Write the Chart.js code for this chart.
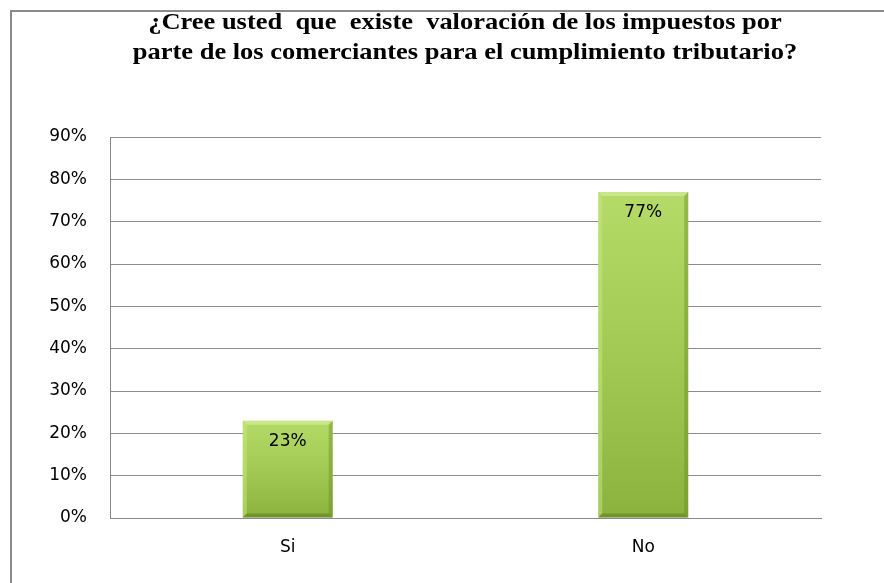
<!DOCTYPE html>
<html>
<head>
<meta charset="utf-8">
<script src="https://cdn.jsdelivr.net/npm/chart.js@4/dist/chart.umd.min.js"></script>
<style>
  html, body { margin: 0; padding: 0; background: #fff; }
  #wrap { position: relative; width: 884px; height: 583px; }
</style>
</head>
<body>
<div id="wrap"><canvas id="chart"></canvas></div>
<script>
/* ==== data ========================================================= */
const titleLines = [
  '¿Cree usted  que  existe  valoración de los impuestos por',
  'parte de los comerciantes para el cumplimiento tributario?'
];
const categories = ['Si', 'No'];
const values = [23, 77];           // percent
const yMax = 90, yStep = 10;

/* ==== helpers ====================================================== */
// vertical green gradient per bar, light on top, darker at base
const barFill = c => {
  const { chart, dataIndex } = c;
  const y = chart.scales.y;
  if (!y || !chart.chartArea) return '#9fc74f';
  const top = y.getPixelForValue(values[dataIndex]), base = y.getPixelForValue(0);
  const g = chart.ctx.createLinearGradient(0, top, 0, base);
  g.addColorStop(0, '#b5da68');
  g.addColorStop(0.5, '#a2ca53');
  g.addColorStop(1, '#8cb23e');
  return g;
};

/* ==== plugins ====================================================== */
const frame = {
  id: 'frame',
  beforeDraw(chart) {
    const { ctx, width, height } = chart;
    ctx.save();
    ctx.strokeStyle = '#8a8a8a';
    ctx.lineWidth = 2;
    ctx.beginPath();
    ctx.moveTo(11, height); ctx.lineTo(11, 11); ctx.lineTo(width, 11);
    ctx.stroke();
    ctx.restore();
  }
};

// title drawn slightly stretched sideways, like the original
const heading = {
  id: 'heading',
  afterDraw(chart) {
    const { ctx } = chart;
    const sx = 1.15;
    ctx.save();
    ctx.scale(sx, 1);
    ctx.font = 'bold 23px "Liberation Serif", serif';
    ctx.fillStyle = '#000';
    ctx.textAlign = 'center';
    ctx.textBaseline = 'middle';
    titleLines.forEach((t, i) => ctx.fillText(t, 465 / sx, 23 + i * 30));
    ctx.restore();
  }
};

// bevel edges + value labels inside top of each bar
const bevel = {
  id: 'bevel',
  afterDatasetsDraw(chart) {
    const { ctx } = chart;
    const meta = chart.getDatasetMeta(0);
    ctx.save();
    meta.data.forEach((bar, i) => {
      const l = bar.x - bar.width / 2, r = bar.x + bar.width / 2, t = bar.y, b = bar.base, e = 4;
      const poly = (pts, col) => {
        ctx.beginPath(); ctx.moveTo(...pts[0]);
        pts.slice(1).forEach(p => ctx.lineTo(...p));
        ctx.closePath(); ctx.fillStyle = col; ctx.fill();
      };
      poly([[l, t], [r, t], [r - e, t + e], [l + e, t + e]], 'rgba(215,238,160,0.6)');
      poly([[l, t], [l + e, t + e], [l + e, b - e], [l, b]], 'rgba(200,232,130,0.5)');
      poly([[r, t], [r, b], [r - e, b - e], [r - e, t + e]], 'rgba(100,135,35,0.4)');
      poly([[l, b], [l + e, b - e], [r - e, b - e], [r, b]], 'rgba(85,115,30,0.5)');
      ctx.fillStyle = '#000';
      ctx.font = '17px "DejaVu Sans", sans-serif';
      ctx.textAlign = 'center';
      ctx.textBaseline = 'middle';
      ctx.fillText(values[i] + '%', bar.x, t + 21);
    });
    ctx.restore();
  }
};

/* ==== chart ======================================================== */
new Chart(document.getElementById('chart'), {
  type: 'bar',
  data: {
    labels: categories,
    datasets: [{
      data: values,
      backgroundColor: barFill,
      borderWidth: 0,
      categoryPercentage: 1,
      barPercentage: 0.253
    }]
  },
  options: {
    responsive: true, maintainAspectRatio: false,
    animation: false,
    devicePixelRatio: 1,
    layout: { padding: { left: 12, right: 63, top: 137, bottom: 0 } },
    plugins: { legend: { display: false }, title: { display: false }, tooltip: { enabled: false } },
    scales: {
      x: {
        afterFit: s => { s.height = 65; },
        grid: { display: false, drawTicks: false },
        border: { display: true, color: '#8a8a8a' },
        ticks: { color: '#000', padding: 19, font: { family: '"DejaVu Sans", sans-serif', size: 17 } }
      },
      y: {
        min: 0, max: yMax,
        afterFit: s => { s.width = 98; },
        grid: { color: '#8c8c8c', drawTicks: false },
        border: { display: true, color: '#8a8a8a' },
        ticks: {
          stepSize: yStep, padding: 23, color: '#000',
          font: { family: '"DejaVu Sans", sans-serif', size: 17 },
          callback: v => v + '%'
        }
      }
    }
  },
  plugins: [frame, heading, bevel]
});
</script>
</body>
</html>
